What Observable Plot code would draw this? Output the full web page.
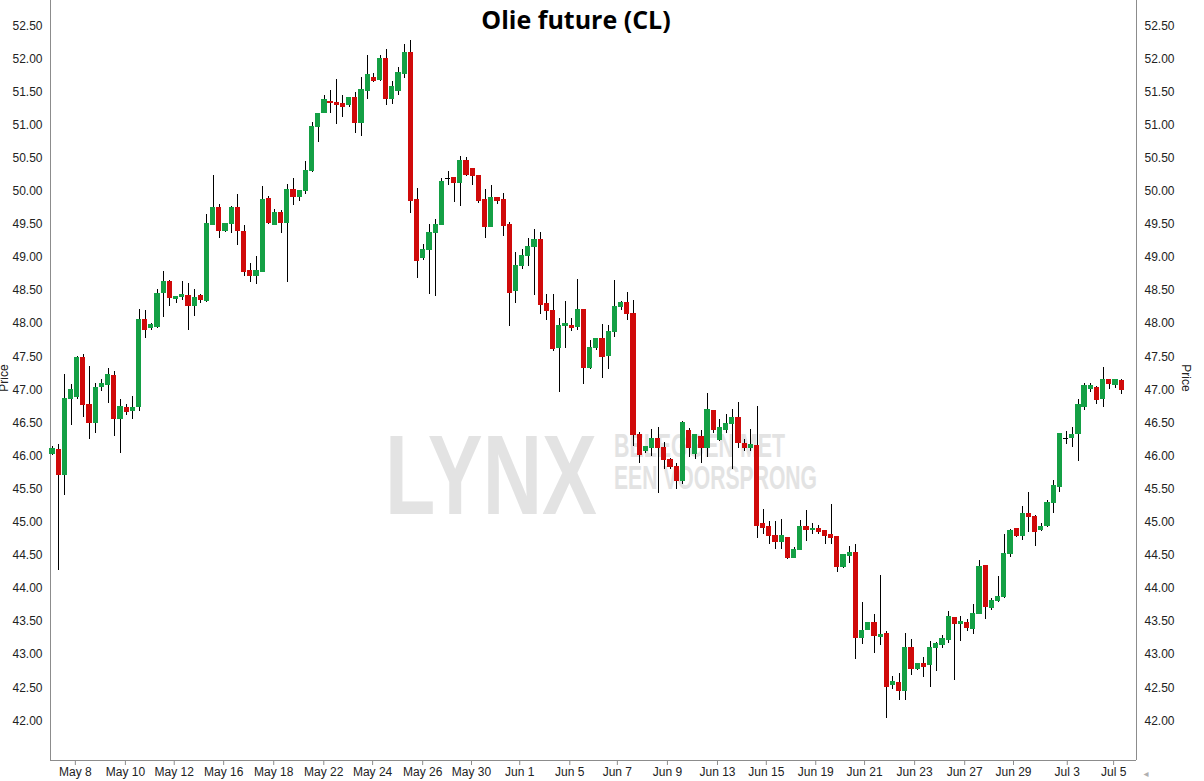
<!DOCTYPE html>
<html>
<head>
<meta charset="utf-8">
<script src="https://cdn.jsdelivr.net/npm/d3@7"></script>
<script src="https://cdn.jsdelivr.net/npm/@observablehq/plot@0.6"></script>
<style>
  body { margin: 0; background: #fff; }
  #wrap { position: relative; width: 1204px; height: 781px; overflow: hidden; }
  #wrap > svg { position: absolute; left: 0; top: 0; }
</style>
</head>
<body>
<div id="wrap">
  <svg id="back" width="1204" height="781">
    <text x="385" y="514" font-family="Liberation Sans" font-weight="bold" font-size="114" fill="#e3e3e3" textLength="212" lengthAdjust="spacingAndGlyphs">LYNX</text>
    <text x="614" y="457" font-family="Liberation Sans" font-weight="bold" font-size="33" fill="#e3e3e3" textLength="171" lengthAdjust="spacingAndGlyphs">BELEGGEN MET</text>
    <text x="614" y="489" font-family="Liberation Sans" font-weight="bold" font-size="33" fill="#e3e3e3" textLength="203" lengthAdjust="spacingAndGlyphs">EEN VOORSPRONG</text>
    <text x="576" y="29" text-anchor="middle" font-family="Open Sans" font-weight="bold" font-size="25" fill="#000">Olie future (CL)</text>
  </svg>
</div>
<script>
// Crude oil future (CL), 6-hour candles, May 8 – Jul 5
const opens = [
  46.04,46.08,45.71,46.86,46.89,47.47,46.77,46.50,47.04,47.07,47.20,46.56,46.72,46.68,46.74,48.05,47.94,47.95,48.46,48.62,
  48.37,48.40,48.42,48.27,48.41,48.34,49.50,49.74,49.40,49.51,49.74,49.38,48.79,48.72,48.79,49.88,49.50,49.66,49.52,50.01,
  49.92,50.00,50.31,50.97,51.19,51.35,51.33,51.31,51.30,51.41,51.03,51.52,51.70,51.69,51.99,51.39,51.51,51.78,52.08,49.86,
  49.00,49.12,49.37,49.49,50.18,50.19,50.13,50.45,50.33,50.22,49.87,49.46,49.90,49.87,49.49,48.49,48.87,49.03,49.16,49.26,
  48.29,48.19,47.64,47.96,47.96,47.95,48.20,47.34,47.64,47.76,47.52,47.87,48.25,48.30,48.14,46.31,46.08,46.13,46.25,46.11,
  45.94,45.83,45.62,46.37,46.04,46.29,46.13,46.68,46.25,46.40,46.49,46.57,46.17,46.13,46.15,44.97,44.92,44.78,44.71,44.76,
  44.47,44.58,44.92,44.88,44.89,44.86,44.80,44.77,44.33,44.50,44.53,43.26,43.38,43.47,43.27,43.31,42.55,42.56,42.46,43.09,
  42.79,42.85,42.84,43.11,43.15,43.23,43.55,43.46,43.48,43.39,43.61,44.33,43.71,43.81,43.88,44.52,44.89,44.80,45.12,45.08,
  44.89,44.95,45.29,45.54,46.26,46.28,46.34,46.75,47.02,47.03,46.86,47.14,47.08,47.13
];
const highs = [
  46.14,46.17,47.23,47.08,47.50,47.53,47.35,47.10,47.15,47.32,47.27,46.85,46.78,46.90,48.22,48.20,48.00,48.52,48.79,48.65,
  48.41,48.63,48.60,48.52,48.44,49.65,50.24,49.80,49.51,49.77,49.95,49.48,48.90,49.01,50.07,49.92,49.72,49.71,50.10,50.19,
  50.01,50.45,51.03,51.16,51.45,51.52,51.69,51.44,51.41,51.49,51.71,52.05,51.78,52.05,52.14,51.66,51.87,52.21,52.27,50.04,
  49.19,49.50,49.57,50.19,50.29,50.19,50.53,50.51,50.33,50.23,50.02,50.09,49.91,49.97,49.53,49.07,49.12,49.28,49.42,49.38,
  48.44,48.44,48.07,48.33,48.08,48.66,48.21,47.74,47.77,47.99,47.97,48.65,48.33,48.47,48.35,46.36,46.14,46.40,46.43,46.21,
  45.96,45.88,46.52,46.42,46.31,46.39,46.94,46.69,46.55,46.62,46.70,46.81,46.25,46.40,46.74,45.19,45.01,45.01,45.04,44.77,
  44.62,45.03,45.18,44.98,44.95,44.87,45.27,44.77,44.51,44.64,44.67,43.79,43.48,43.61,44.19,43.35,42.67,42.71,43.32,43.23,
  42.86,42.96,43.19,43.18,43.29,43.65,43.56,43.58,43.53,43.76,44.42,44.34,43.84,44.18,44.82,44.89,44.89,45.24,45.45,45.10,
  44.98,45.33,45.63,46.34,46.37,46.43,46.85,47.09,47.09,47.05,47.33,47.16,47.16,47.16
];
const lows = [
  46.01,44.27,45.40,46.46,46.85,46.58,46.25,46.34,46.98,46.80,46.29,46.04,46.61,46.55,46.67,47.77,47.89,47.92,48.09,48.26,
  48.31,48.35,47.89,48.10,48.30,48.32,49.48,49.29,49.37,49.36,49.18,48.71,48.62,48.59,48.78,49.49,49.49,49.36,48.62,49.79,
  49.85,49.95,50.28,50.73,51.18,51.18,51.00,51.11,51.27,50.87,50.82,51.39,51.64,51.66,51.29,51.31,51.44,51.70,49.67,48.68,
  48.95,48.44,48.41,49.48,50.09,49.83,49.77,50.22,50.09,49.82,49.28,49.45,49.80,49.31,47.96,48.30,48.82,48.86,48.42,48.13,
  48.04,47.58,46.96,47.63,47.88,47.90,47.08,47.31,47.59,47.17,47.30,47.79,48.19,48.04,46.15,45.88,46.03,45.99,45.43,45.79,
  45.79,45.49,45.57,45.98,45.94,45.88,45.98,46.34,46.22,46.34,45.79,46.11,46.06,46.06,44.76,44.82,44.66,44.59,44.58,44.43,
  44.46,44.57,44.71,44.81,44.81,44.66,44.66,44.24,44.30,44.38,42.93,43.15,43.37,43.02,43.14,42.03,42.48,42.31,42.31,42.68,
  42.76,42.66,42.51,42.75,43.09,43.17,42.61,43.20,43.35,43.31,43.60,43.53,43.67,43.78,43.84,44.47,44.77,44.73,44.85,44.64,
  44.86,44.92,45.13,45.45,46.18,46.13,45.91,46.69,46.96,46.78,46.73,47.00,47.02,46.93
];
const closes = [
  46.10,45.71,46.85,47.00,47.47,46.77,46.50,47.03,47.08,47.22,46.56,46.73,46.67,46.72,48.05,47.91,47.97,48.45,48.62,48.39,
  48.40,48.43,48.27,48.38,48.36,49.50,49.74,49.40,49.50,49.74,49.40,48.79,48.72,48.79,49.86,49.53,49.66,49.52,50.01,49.91,
  50.00,50.30,50.97,51.16,51.37,51.33,51.30,51.28,51.41,51.03,51.52,51.75,51.67,51.99,51.39,51.57,51.78,52.08,49.86,48.95,
  49.11,49.36,49.48,50.13,50.18,50.12,50.45,50.25,50.23,49.86,49.46,49.90,49.86,49.48,48.47,48.87,49.02,49.16,49.26,48.28,
  48.19,47.62,47.96,47.99,47.93,48.20,47.34,47.62,47.77,47.50,47.87,48.24,48.30,48.15,46.32,46.02,46.13,46.25,46.13,45.95,
  45.83,45.63,46.50,46.13,46.31,46.13,46.69,46.39,46.42,46.48,46.57,46.20,46.13,46.16,44.95,44.92,44.79,44.71,44.78,44.47,
  44.58,44.93,44.88,44.90,44.86,44.79,44.77,44.33,44.50,44.53,43.26,43.35,43.47,43.29,43.29,42.52,42.58,42.45,43.09,42.78,
  42.85,42.82,43.10,43.16,43.23,43.56,43.47,43.49,43.40,43.61,44.32,43.72,43.80,43.87,44.52,44.87,44.80,45.12,45.08,44.86,
  44.93,45.29,45.54,46.33,46.26,46.31,46.76,47.05,47.05,46.85,47.15,47.09,47.14,47.00
];

// Date labels on the time axis and the candle position where each day starts
const dateLabels = ["May 8","May 10","May 12","May 16","May 18","May 22","May 24","May 26","May 30","Jun 1","Jun 5",
  "Jun 7","Jun 9","Jun 13","Jun 15","Jun 19","Jun 21","Jun 23","Jun 27","Jun 29","Jul 3","Jul 5"];
const dateAt = [3.7,11.8,19.7,27.7,35.8,43.9,51.8,59.9,67.8,75.6,83.7,91.4,99.5,107.6,115.5,123.5,131.4,139.5,147.6,155.5,164.2,171.7];

const priceTicks = d3.range(42, 52.501, 0.5);

const UP = "#14a045", DOWN = "#d00a0a";

const candles = opens.map((o, i) => ({i, open: o, high: highs[i], low: lows[i], close: closes[i]}));
const labelAt = new Map(dateAt.map((t, k) => [t, dateLabels[k]]));

const xDomain = [-0.32, 175.4];
const yDomain = [41.40, 52.88];
const axisColor = "#8c8c8c";

const chart = Plot.plot({
  width: 1204,
  height: 781,
  marginLeft: 50,
  marginRight: 68,
  marginTop: 0,
  marginBottom: 21,
  style: {background: "transparent", fontFamily: "Liberation Sans, Arial, sans-serif", fontSize: "12px", color: "#222"},
  x: {domain: xDomain, axis: null, label: null},
  y: {domain: yDomain, axis: null, label: null},
  marks: [
    Plot.axisY(priceTicks, {anchor: "left", label: null, tickFormat: d => d.toFixed(2), tickSize: 0, tickPadding: 8, fontSize: 12}),
    Plot.axisY(priceTicks, {anchor: "right", label: null, tickFormat: d => d.toFixed(2), tickSize: 0, tickPadding: 8, fontSize: 12}),
    Plot.axisX(dateAt, {anchor: "bottom", label: null, tickFormat: d => labelAt.get(d), tickSize: 5, tickPadding: 2, stroke: axisColor, fontSize: 12}),
    Plot.ruleX([xDomain[0], xDomain[1]], {stroke: axisColor, shapeRendering: "crispEdges"}),
    Plot.ruleY([yDomain[0]], {stroke: axisColor, shapeRendering: "crispEdges"}),
    Plot.ruleX(candles, {x: "i", y1: "low", y2: "high", stroke: "#000", strokeWidth: 1, shapeRendering: "crispEdges"}),
    Plot.rect(candles, {
      x1: d => d.i - 0.42, x2: d => d.i + 0.42,
      y1: "open", y2: "close",
      insetTop: -0.75, insetBottom: -0.75,
      fill: d => d.close > d.open ? UP : d.close < d.open ? DOWN : "#000",
      shapeRendering: "crispEdges"
    })
  ]
});
document.getElementById("wrap").appendChild(chart);

// Rotated axis titles and the scroll marker
const fg = d3.select("#wrap").append("svg").attr("width", 1204).attr("height", 781)
  .style("pointer-events", "none");
fg.append("text").attr("transform", "translate(8,378) rotate(-90)").attr("text-anchor", "middle")
  .attr("font-family", "Liberation Sans").attr("font-size", 12).attr("fill", "#222").text("Price");
fg.append("text").attr("transform", "translate(1182,378) rotate(90)").attr("text-anchor", "middle")
  .attr("font-family", "Liberation Sans").attr("font-size", 12).attr("fill", "#222").text("Price");
fg.append("text").attr("x", 1146).attr("y", 777).attr("text-anchor", "middle")
  .attr("font-family", "DejaVu Sans").attr("font-size", 10).attr("fill", "#b0b0b0").text("◂");
</script>
</body>
</html>
